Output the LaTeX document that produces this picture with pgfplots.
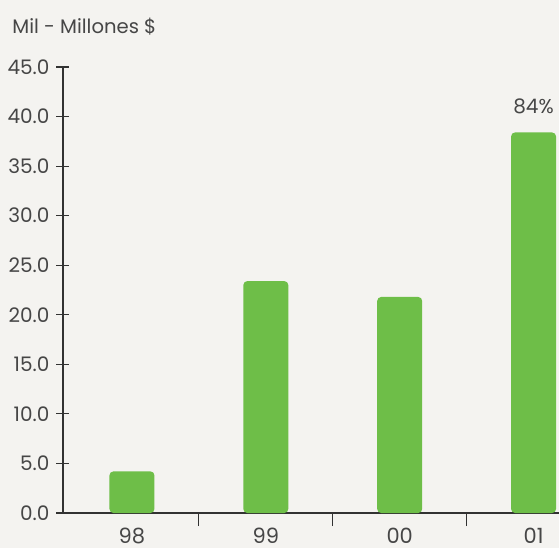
\documentclass[border=0pt]{standalone}
\usepackage{pgfplots}
\pgfplotsset{compat=1.18}
\usepackage{fontspec}
\setmainfont{Poppins}
\definecolor{bargreen}{RGB}{110,190,72}
\definecolor{txt}{RGB}{70,70,70}
\definecolor{axl}{RGB}{50,50,50}
\definecolor{paper}{RGB}{244,243,240}
\begin{document}
\begin{tikzpicture}
\path[use as bounding box, fill=paper] (-31.5pt,-17.5pt) rectangle (248pt,256.5pt);
\begin{axis}[
  at={(0,0)}, anchor=south west,
  scale only axis, width=248pt, height=223pt,
  xmin=-0.515, xmax=3.19, ymin=0, ymax=45,
  axis lines=left, axis line style={-, draw=axl, line width=0.6pt},
  clip=false,
  /pgf/number format/assume math mode=true,
  ytick={0,5,...,45},
  yticklabel={\pgfmathprintnumber[fixed,fixed zerofill,precision=1]{\tick}},
  yticklabel style={font=\fontsize{10}{12}\selectfont, text=txt},
  xtick={0.5,1.5,2.5}, xticklabels={},
  extra x ticks={0,1,2,3}, extra x tick labels={98,99,00,01},
  extra x tick style={major tick length=0pt, tick label style={font=\fontsize{10.5}{12}\selectfont, text=txt, yshift=-4pt}},
  tick align=center, xtick align=center, ytick align=center, major tick length=6.5pt,
  tick style={draw=axl, line width=0.6pt},
  ybar, bar width=0.336,
]
\addplot[fill=bargreen, draw=none, rounded corners=2pt] coordinates {(0,4.2) (1,23.4) (2,21.8) (3,38.4)};
\node[anchor=south, font=\fontsize{10}{12}\selectfont, text=txt, inner sep=0pt] at (axis cs:3,40.2) {84\%};
\end{axis}
\node[anchor=base west, font=\fontsize{9.8}{11}\selectfont, text=txt, inner sep=0pt] at (-25.5pt,240pt) {Mil - Millones \$};
\end{tikzpicture}
\end{document}
